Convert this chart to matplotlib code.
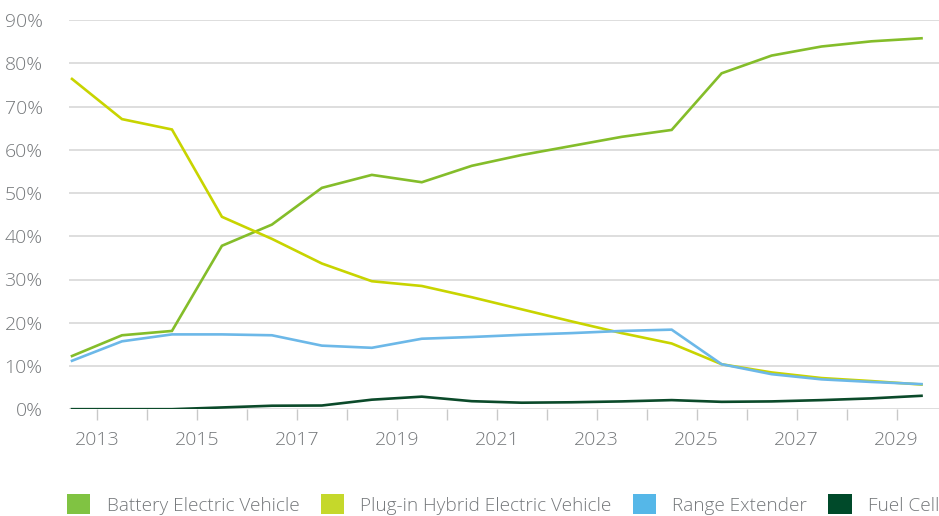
import matplotlib
matplotlib.use("Agg")
import matplotlib.pyplot as plt
from matplotlib.patches import Patch
from matplotlib.ticker import FuncFormatter, MultipleLocator
import numpy as np

plt.rcParams['font.family'] = ['Open Sans', 'DejaVu Sans']

# Share of new-vehicle sales by powertrain (percent), one value per year
years = list(range(2013, 2031))
bev = [12.3, 17.1, 18.1, 37.8, 42.7, 51.2, 54.2, 52.5, 56.3, 58.8, 60.9, 63.0,
       64.6, 77.7, 81.8, 83.9, 85.1, 85.8]
phev = [76.4, 67.1, 64.7, 44.5, 39.4, 33.7, 29.6, 28.5, 25.9, 23.1, 20.3, 17.6,
        15.2, 10.4, 8.5, 7.2, 6.5, 5.7]
range_ext = [11.2, 15.7, 17.3, 17.3, 17.1, 14.7, 14.2, 16.3, 16.7, 17.2, 17.6,
             18.1, 18.4, 10.4, 8.1, 6.9, 6.3, 5.8]
fuel_cell = [0.0, 0.0, 0.0, 0.4, 0.8, 0.85, 2.2, 2.9, 1.85, 1.5, 1.6, 1.8, 2.1,
             1.7, 1.8, 2.1, 2.5, 3.1]

series_names = ["Battery Electric Vehicle", "Plug-in Hybrid Electric Vehicle",
                "Range Extender", "Fuel Cell"]
line_colors = ["#84bd2a", "#c8d400", "#6cb8e8", "#0b4a2a"]
legend_colors = ["#80c342", "#c5d82b", "#55b7e8", "#004a2a"]

tick_years = list(range(2013, 2030))
label_years = [y for y in tick_years if y % 2 == 1]

text_color = "#75787b"
grid_color = "#d4d4d4"
fs = 14
legend_fs = 13.7

fig = plt.figure(figsize=(9.39, 5.16), dpi=100)
ax = fig.add_axes([0.0735, 0.207, 0.9265, 0.754])

# Each year's value is drawn mid-way through the year interval
x = np.array(years) - 0.5
for vals, col in zip([bev, phev, range_ext, fuel_cell], line_colors):
    ax.plot(x, np.array(vals) / 100, color=col, lw=1.9, solid_joinstyle='miter',
            zorder=3)

ax.set_ylim(0, 0.9)
ax.set_xlim(2012.44, 2029.85)
ax.yaxis.set_major_locator(MultipleLocator(0.1))
ax.yaxis.set_major_formatter(FuncFormatter(lambda v, p: f"{v*100:.0f}%"))
ax.grid(axis='y', color=grid_color, lw=1.1, zorder=0)
ax.set_axisbelow(True)

ax.set_xticks(tick_years)
ax.set_xticklabels([str(y) if y in label_years else "" for y in tick_years])

for s in ax.spines.values():
    s.set_visible(False)

ax.tick_params(axis='y', length=0, pad=19, labelsize=fs, labelcolor=text_color)
ax.tick_params(axis='x', length=8, width=1, color="#c8c8c8", pad=8,
               labelsize=fs, labelcolor=text_color)
for lbl in ax.get_xticklabels() + ax.get_yticklabels():
    lbl.set_fontweight('light')

handles = [Patch(facecolor=c, edgecolor='none') for c in legend_colors]
leg = fig.legend(handles, series_names, loc='lower right',
                 bbox_to_anchor=(1.0085, -0.012), ncol=4, frameon=False,
                 fontsize=legend_fs, handlelength=1.23, handleheight=1.23,
                 handletextpad=0.85, columnspacing=1.12, borderaxespad=0)
for t in leg.get_texts():
    t.set_color(text_color)
    t.set_fontweight('light')

fig.savefig("out.png", dpi=100)
